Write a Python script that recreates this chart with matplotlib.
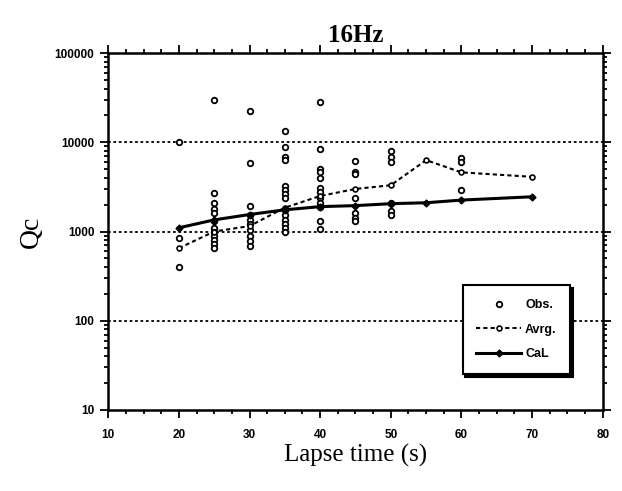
import matplotlib
matplotlib.use("Agg")
import matplotlib.pyplot as plt
from matplotlib.ticker import FixedLocator, MultipleLocator, LogLocator, NullFormatter

# Observations (lapse time, Qc)
obs_x = ([20]*3 + [25]*12 + [30]*10 + [35]*14 + [40]*12 + [45]*7 + [50]*6 + [60]*3)
obs_y = ([10000, 850, 400] +
         [29500, 2700, 2100, 1800, 1600, 1300, 1100, 1000, 900, 800, 720, 650] +
         [22300, 5800, 1950, 1550, 1350, 1200, 1050, 900, 780, 680] +
         [13300, 8800, 6900, 6300, 3200, 2950, 2600, 2400, 1750, 1550, 1350, 1200, 1100, 1000] +
         [28000, 8300, 5000, 4600, 4000, 3100, 2750, 2400, 2100, 1900, 1300, 1080] +
         [6100, 4700, 4400, 2400, 1600, 1400, 1300] +
         [7900, 6900, 6000, 2100, 1700, 1550] +
         [6600, 6000, 2950])

lapse = [20, 25, 30, 35, 40, 45, 50, 55, 60, 70]
avrg = [650, 1000, 1150, 1850, 2500, 3000, 3300, 6300, 4600, 4100]
cal = [1100, 1350, 1550, 1750, 1900, 1950, 2050, 2100, 2250, 2450]

xticks = [10, 20, 30, 40, 50, 60, 70, 80]
yticks = [10, 100, 1000, 10000, 100000]
ytick_labels = ["10", "100", "1000", "10000", "100000"]

fig = plt.figure(figsize=(6.22, 4.91), dpi=100)
ax = fig.add_axes([0.174, 0.165, 0.795, 0.727])

ax.set_yscale("log")
ax.set_xlim(10, 80)
ax.set_ylim(10, 100000)

for gy in [100, 1000, 10000]:
    ax.axhline(gy, color="black", lw=1.3, ls=(0, (1.5, 1.5)), zorder=1)

ax.plot(obs_x, obs_y, ls="none", marker="o", ms=4, mfc="white", mec="black", mew=1.3,
        label="Obs.", zorder=3)
ax.plot(lapse, avrg, color="black", ls=(0, (2, 1.5)), lw=1.5, marker="o", ms=3.5,
        mfc="white", mec="black", mew=1.2, label="Avrg.", zorder=4)
ax.plot(lapse, cal, color="black", ls="-", lw=2.2, marker="D", ms=3.5,
        mfc="black", mec="black", label="CaL", zorder=5)

ax.xaxis.set_major_locator(FixedLocator(xticks))
ax.xaxis.set_minor_locator(MultipleLocator(2.5))
ax.yaxis.set_major_locator(FixedLocator(yticks))
ax.yaxis.set_minor_locator(LogLocator(base=10, subs=range(2, 10)))
ax.yaxis.set_minor_formatter(NullFormatter())
ax.set_yticklabels(ytick_labels)

ax.tick_params(which="both", direction="out", top=True, right=True, width=1.3)
ax.tick_params(which="major", length=6, labelsize=8.5)
ax.tick_params(which="minor", length=3)
for lab in ax.get_xticklabels() + ax.get_yticklabels():
    lab.set_fontfamily("Liberation Sans")
    lab.set_fontweight("bold")
ax.tick_params(axis="x", pad=8)
ax.tick_params(axis="y", pad=4)

for s in ax.spines.values():
    s.set_linewidth(1.8)

ax.set_xlabel("Lapse time (s)", fontfamily="Liberation Serif", fontsize=18, labelpad=2)
ax.set_ylabel("Qc", fontfamily="Liberation Serif", fontsize=20, labelpad=8)
ax.set_title("16Hz", fontfamily="Liberation Serif", fontsize=18, fontweight="bold", pad=8)

leg = ax.legend(loc="lower right", bbox_to_anchor=(0.947, 0.084), frameon=True,
                fancybox=False, shadow={"color": "black", "alpha": 1},
                edgecolor="black", framealpha=1,
                prop={"family": "Liberation Sans", "weight": "bold", "size": 9},
                handlelength=3.6, borderpad=1.1, labelspacing=1.0, handletextpad=0.3)
leg.get_frame().set_linewidth(1.5)

fig.savefig("out.png", dpi=100, facecolor="white")
